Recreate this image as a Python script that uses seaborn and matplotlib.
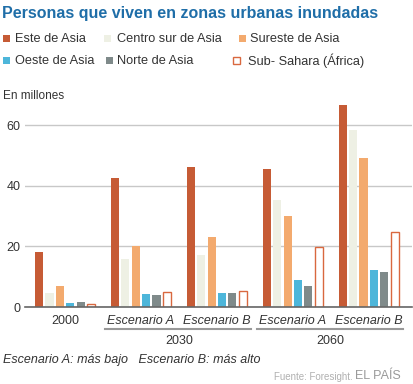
import matplotlib.pyplot as plt
import seaborn as sns
import pandas as pd
from matplotlib.patches import Rectangle
from matplotlib.lines import Line2D

# data (millions of people)
grupos = ['2000', '2030 A', '2030 B', '2060 A', '2060 B']
etiquetas_x = ['2000', 'Escenario A', 'Escenario B', 'Escenario A', 'Escenario B']
regiones = ['Este de Asia', 'Centro sur de Asia', 'Sureste de Asia',
            'Oeste de Asia', 'Norte de Asia', 'Sub- Sahara (África)']
este = [18.1, 42.7, 46.3, 45.5, 66.8]
centro_sur = [4.5, 16.0, 17.3, 35.3, 58.3]
sureste = [6.8, 20.3, 23.2, 30.0, 49.3]
oeste = [1.3, 4.2, 4.6, 8.8, 12.1]
norte = [1.5, 3.8, 4.7, 6.8, 11.6]
sub_sahara = [1.0, 5.1, 5.3, 19.8, 24.8]

colores = ['#c65b35', '#eef0e4', '#f3aa6e', '#4db6da', '#7f8a8a', '#ffffff']
borde_sub = '#d9683f'

valores = [este, centro_sur, sureste, oeste, norte, sub_sahara]
df = pd.DataFrame([
    {'grupo': g, 'region': r, 'valor': v}
    for r, serie in zip(regiones, valores)
    for g, v in zip(grupos, serie)
])

W, H = 414, 384
plt.rcParams['font.family'] = ['Liberation Sans', 'DejaVu Sans']
fig = plt.figure(figsize=(W / 100, H / 100), dpi=100)
ax = fig.add_axes([0.060, 0.2005, 0.935, 0.5365])

sns.barplot(data=df, x='grupo', y='valor', hue='region', order=grupos,
            hue_order=regiones, palette=colores, saturation=1, width=0.82,
            gap=0.22, linewidth=0, legend=False, ax=ax)

# hollow Sub-Sahara bars
for bar in ax.containers[5]:
    bar.set_facecolor('white')
    bar.set_edgecolor(borde_sub)
    bar.set_linewidth(1.0)

ax.set_xlim(-0.53, 4.57)
ax.set_ylim(0, 68)
ax.set_yticks([0, 20, 40, 60])
ax.yaxis.grid(True, color='#c8c8c8', linewidth=1)
ax.set_axisbelow(True)
for s in ['top', 'right', 'left']:
    ax.spines[s].set_visible(False)
ax.spines['bottom'].set_color('#666666')
ax.spines['bottom'].set_linewidth(1.2)
ax.tick_params(axis='both', length=0, labelsize=9, labelcolor='#333333')
ax.tick_params(axis='x', pad=6)
ax.tick_params(axis='y', pad=3)
ax.set_xticks(range(len(grupos)))
ax.set_xticklabels(etiquetas_x)
for i, lab in enumerate(ax.get_xticklabels()):
    if i > 0:
        lab.set_style('italic')
ax.set_xlabel('')
ax.set_ylabel('')

# year brackets under the scenarios
for start, anio in [(1, '2030'), (3, '2060')]:
    ax.add_line(Line2D([start - 0.47, start + 1.45], [-0.107, -0.107],
                       transform=ax.get_xaxis_transform(), color='#999999',
                       linewidth=1.5, clip_on=False))
    ax.text(start + 0.5, -0.165, anio, transform=ax.get_xaxis_transform(),
            ha='center', va='center', fontsize=9, color='#333333')

# title
fig.text(0.005, 0.964, 'Personas que viven en zonas urbanas inundadas',
         fontsize=11.5, fontweight='bold', color='#1f6ea8', va='center')

# legend laid out by hand: square x, text x, row centre y (pixels from top-left)
pos_leyenda = [(3, 15, 38), (104, 117, 38), (239, 250, 38),
               (3, 15, 60), (106, 117, 60), (233, 248, 60)]
sq = 7
for (sx, tx, py), r, c in zip(pos_leyenda, regiones, colores):
    if r.startswith('Sub'):
        rect = Rectangle((sx / W, (H - py - sq / 2) / H), sq / W, sq / H,
                         transform=fig.transFigure, facecolor='white',
                         edgecolor=borde_sub, linewidth=1)
    else:
        rect = Rectangle((sx / W, (H - py - sq / 2) / H), sq / W, sq / H,
                         transform=fig.transFigure, facecolor=c, edgecolor='none')
    fig.patches.append(rect)
    fig.text(tx / W, (H - py - 4.5) / H, r, fontsize=9.2, color='#333333',
             va='baseline')

fig.text(0.007, 0.75, 'En millones', fontsize=8.5, color='#333333', va='center')

fig.text(0.007, 0.063, 'Escenario A: más bajo   Escenario B: más alto',
         fontsize=9, style='italic', color='#333333', va='center')
fig.text(0.852, 0.018, 'Fuente: Foresight.', fontsize=7, color='#b0b0b0',
         ha='right', va='center')
fig.text(0.858, 0.022, 'EL PAÍS', fontsize=9, color='#9a9a9a',
         ha='left', va='center')

fig.savefig('out.png', dpi=100)
